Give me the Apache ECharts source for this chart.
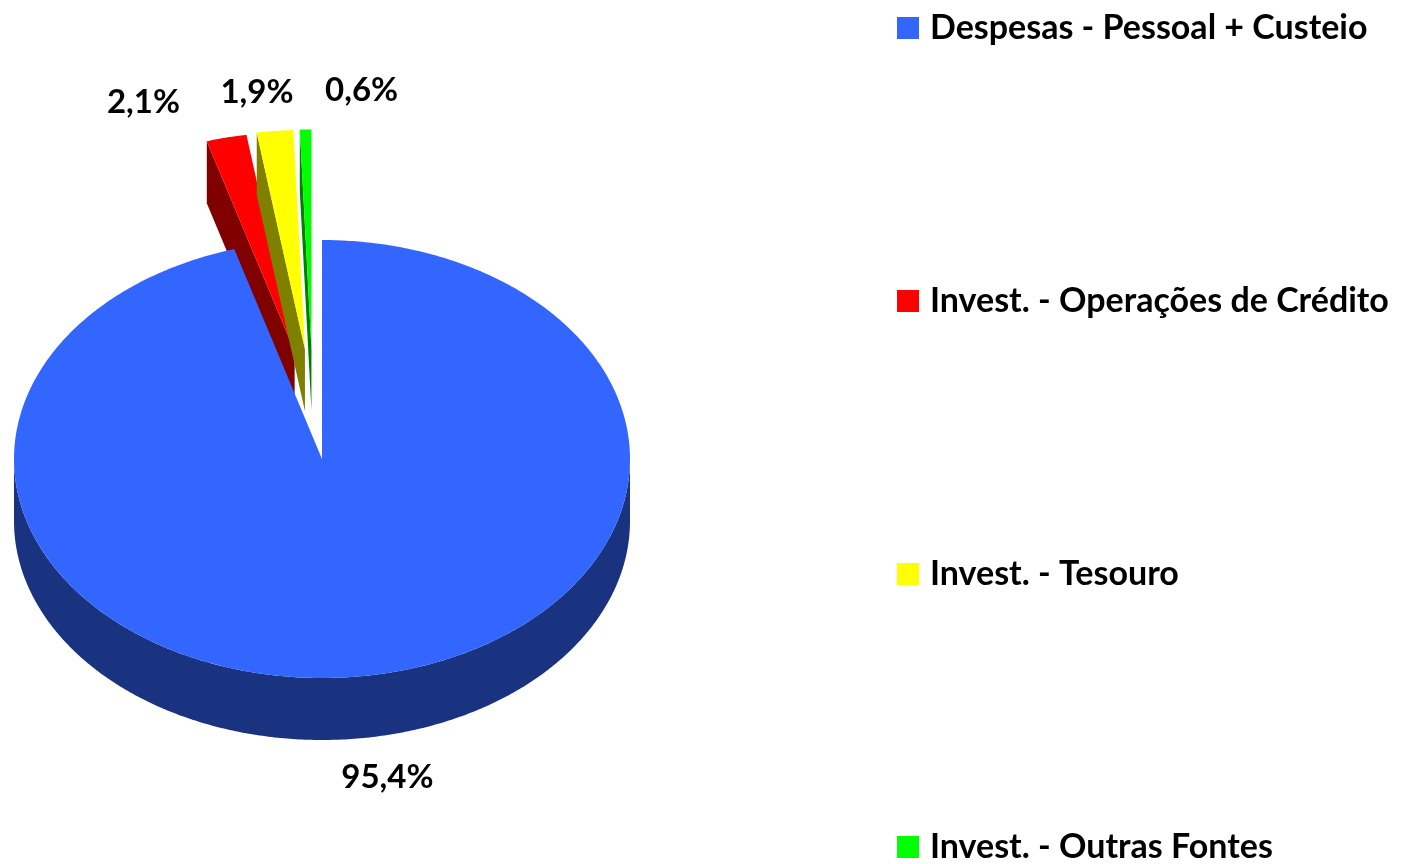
<!DOCTYPE html>
<html>
<head>
<meta charset="utf-8">
<title>Despesas e Investimentos</title>
<script src="https://cdn.jsdelivr.net/npm/echarts@6/dist/echarts.min.js"></script>
<style>
  html, body { margin: 0; padding: 0; background: #fff; }
  #chart { width: 1405px; height: 864px; }
</style>
</head>
<body>
<div id="chart"></div>
<script>
const categories = [
  'Despesas - Pessoal + Custeio',
  'Invest. - Operações de Crédito',
  'Invest. - Tesouro',
  'Invest. - Outras Fontes'
];
const shares = [95.4, 2.1, 1.9, 0.6];
const topColors = ['#3366FF', '#FF0000', '#FFFF00', '#00FF00'];
const sideColors = ['#1A3380', '#800000', '#808000', '#008000'];

// pie geometry in pixels (3d look: ellipse top + wall depth)
const pie = { cx: 322, cy: 459, rx: 308, ry: 219, depth: 62 };
const explode = [0, 1, 1, 1];
const explodeVec = { x: 0.27, y: 0.505, shift: -9 };
const labelOffsets = [[21, 40], [-83, -35], [-18, -39], [56, -39]];
const fontFamily = 'Lato, "Open Sans", sans-serif';

const total = shares.reduce((s, v) => s + v, 0);

function arc(ox, oy, a0, a1, dz) {
  const pts = [];
  const n = Math.max(2, Math.ceil((a1 - a0) / 0.01));
  for (let k = 0; k <= n; k++) {
    const t = a0 + (a1 - a0) * k / n;
    pts.push([ox + pie.rx * Math.sin(t), oy - pie.ry * Math.cos(t) + dz]);
  }
  return pts;
}

function sliceRenderer(i) {
  return function (params, api) {
    const before = shares.slice(0, i).reduce((s, v) => s + v, 0);
    const a0 = before / total * 2 * Math.PI;
    const a1 = (before + api.value(0)) / total * 2 * Math.PI;
    const mid = (a0 + a1) / 2;
    const ox = pie.cx + explode[i] * (explodeVec.shift + explodeVec.x * pie.rx * Math.sin(mid));
    const oy = pie.cy - explode[i] * explodeVec.y * pie.ry * Math.cos(mid);
    const d = pie.depth;
    const side = { fill: sideColors[i] };
    const kids = [];

    // outer wall, only the front half of the ellipse is seen
    const w0 = Math.max(a0, Math.PI / 2);
    const w1 = Math.min(a1, Math.PI * 1.5);
    if (w1 > w0) {
      kids.push({
        type: 'polygon',
        shape: { points: arc(ox, oy, w0, w1, 0).concat(arc(ox, oy, w0, w1, d).reverse()) },
        style: side
      });
    }
    // cut faces turned towards the viewer
    [[a0, Math.sin(a0) < -1e-6], [a1, Math.sin(a1) > 1e-6]].forEach(function (f) {
      if (!f[1]) return;
      const ex = ox + pie.rx * Math.sin(f[0]);
      const ey = oy - pie.ry * Math.cos(f[0]);
      kids.push({
        type: 'polygon',
        shape: { points: [[ox, oy], [ex, ey], [ex, ey + d], [ox, oy + d]] },
        style: side
      });
    });
    // top face
    kids.push({
      type: 'polygon',
      shape: { points: [[ox, oy]].concat(arc(ox, oy, a0, a1, 0)) },
      style: { fill: topColors[i] }
    });
    // percentage label
    const lx = ox + pie.rx * Math.sin(mid) + labelOffsets[i][0];
    const ly = oy - pie.ry * Math.cos(mid) + (Math.cos(mid) < 0 ? d : 0) + labelOffsets[i][1];
    kids.push({
      type: 'text',
      style: {
        x: lx,
        y: ly,
        text: api.value(0).toFixed(1).replace('.', ',') + '%',
        fill: '#000',
        fontFamily: fontFamily,
        fontWeight: 'bold',
        fontSize: 33,
        align: 'center',
        verticalAlign: 'middle'
      }
    });
    return { type: 'group', children: kids };
  };
}

const chart = echarts.init(document.getElementById('chart'));
chart.setOption({
  animation: false,
  color: topColors,
  legend: {
    orient: 'vertical',
    left: 897,
    top: 11,
    height: 900,
    padding: 0,
    itemWidth: 22,
    itemHeight: 22,
    itemGap: 239,
    icon: 'rect',
    selectedMode: false,
    data: categories,
    textStyle: {
      fontFamily: fontFamily,
      fontWeight: 'bold',
      fontSize: 34,
      color: '#000',
      padding: [0, 0, 0, 6]
    }
  },
  series: categories.map(function (name, i) {
    return {
      type: 'custom',
      name: name,
      coordinateSystem: 'none',
      z: i === 0 ? 3 : 2,
      itemStyle: { color: topColors[i] },
      renderItem: sliceRenderer(i),
      data: [[shares[i]]]
    };
  })
});
</script>
</body>
</html>
